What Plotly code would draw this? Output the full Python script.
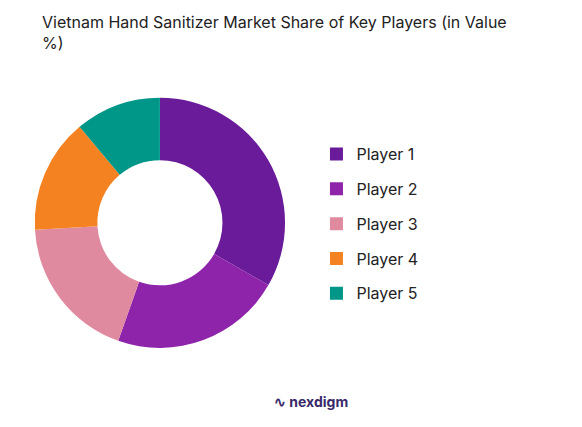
import plotly.graph_objects as go

labels = ["Player 1", "Player 2", "Player 3", "Player 4", "Player 5"]
values = [33.3, 22.1, 18.7, 14.8, 11.1]
colors = ["#6a1b9a", "#8e24aa", "#e08aa0", "#f58220", "#009688"]

fig = go.Figure(go.Pie(
    labels=labels, values=values, hole=0.5, sort=False, direction="clockwise",
    rotation=0, marker=dict(colors=colors), textinfo="none", showlegend=False,
    domain=dict(x=[0.046, 0.476], y=[0.203, 0.791]),
))
for lab, col in zip(labels, colors):
    fig.add_trace(go.Scatter(x=[None], y=[None], mode="markers", name=lab,
                             legendgroup=lab,
                             marker=dict(symbol="square", size=13, color=col)))
fig.update_xaxes(visible=False)
fig.update_yaxes(visible=False)
fig.update_layout(
    width=582, height=427, paper_bgcolor="white", plot_bgcolor="white",
    margin=dict(l=0, r=0, t=0, b=0),
    font=dict(family="Inter, sans-serif", color="#222"),
    legend=dict(x=0.53, y=0.495, xanchor="left", yanchor="middle",
                font=dict(size=16), tracegroupgap=11),
    annotations=[
        dict(text="Vietnam Hand Sanitizer Market Share of Key Players (in Value<br>%)",
             x=0.055, y=0.995, xref="paper", yref="paper", xanchor="left", yanchor="top",
             align="left", showarrow=False, font=dict(size=16, color="#222")),
        dict(text="<b>∿ nexdigm</b>", x=0.52, y=0.055, xref="paper", yref="paper",
             showarrow=False, font=dict(size=14, color="#3a2a6a"))],
)
fig.write_html("out.html")
